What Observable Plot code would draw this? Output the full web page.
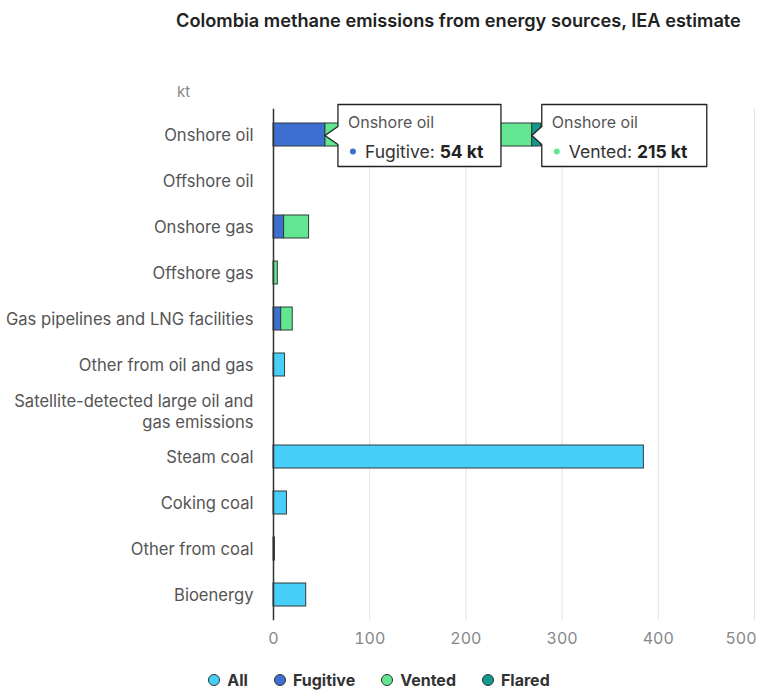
<!DOCTYPE html>
<html>
<head>
<meta charset="utf-8">
<script src="https://cdn.jsdelivr.net/npm/d3@7"></script>
<script src="https://cdn.jsdelivr.net/npm/@observablehq/plot@0.6"></script>
<style>
  html, body { margin: 0; padding: 0; background: #fff; }
  body { width: 758px; height: 690px; position: relative; font-family: Inter, "Noto Sans", sans-serif; overflow: hidden; }
  #title { position: absolute; left: 0; width: 758px; top: 7px; padding-left: 176px; box-sizing: border-box; font-size: 18.2px; font-weight: 600; color: #222; white-space: nowrap; line-height: 26px; }
  #chart { position: absolute; left: 0; top: 40px; }
  #legend { position: absolute; left: 0; width: 758px; top: 668px; display: flex; justify-content: center; gap: 26px; font-size: 16px; font-weight: 700; color: #333; line-height: 24px; }
  .item { display: flex; align-items: center; gap: 7px; }
  .sw { width: 12px; height: 12px; border-radius: 50%; border: 1px solid #333; box-sizing: border-box; }
</style>
</head>
<body>
<div id="title">Colombia methane emissions from energy sources, IEA estimate</div>
<div id="chart"></div>
<div id="legend"></div>
<script>
const categories = [
  "Onshore oil",
  "Offshore oil",
  "Onshore gas",
  "Offshore gas",
  "Gas pipelines and LNG facilities",
  "Other from oil and gas",
  "Satellite-detected large oil and\ngas emissions",
  "Steam coal",
  "Coking coal",
  "Other from coal",
  "Bioenergy"
];
const allValues      = [0, 0, 0, 0, 0, 12, 0, 385, 14, 1.5, 34];
const fugitiveValues = [54, 0, 11, 0, 8, 0, 0, 0, 0, 0, 0];
const ventedValues   = [215, 0, 26, 4.5, 12, 0, 0, 0, 0, 0, 0];
const flaredValues   = [9, 0, 0, 0, 0, 0, 0, 0, 0, 0, 0];
const types = ["All", "Fugitive", "Vented", "Flared"];
const typeColors = ["#48cff9", "#3d6fd0", "#62e692", "#13998b"];
const xTicks = [0, 100, 200, 300, 400, 500];
const unitLabel = "kt";
const tooltips = [
  {category: "Onshore oil", type: "Fugitive", value: 54, at: 54},
  {category: "Onshore oil", type: "Vented", value: 215, at: 269}
];

const series = {All: allValues, Fugitive: fugitiveValues, Vented: ventedValues, Flared: flaredValues};
const rows = [];
for (const t of types) {
  series[t].forEach((v, i) => { if (v > 0) rows.push({category: categories[i], type: t, value: v}); });
}

const plot = Plot.plot({
  width: 758,
  height: 620,
  marginLeft: 273,
  marginRight: 4,
  marginTop: 68.75,
  marginBottom: 39.75,
  style: {fontFamily: "Inter, 'Noto Sans', sans-serif", fontSize: "16px", background: "#fff"},
  x: {domain: [0, 500]},
  y: {domain: categories, paddingInner: 0.49, paddingOuter: 0.245},
  color: {domain: types, range: typeColors},
  marks: [
    Plot.gridX(xTicks, {stroke: "#e3e3e3", strokeOpacity: 1, strokeWidth: 1}),
    Plot.barX(rows, Plot.stackX({y: "category", x: "value", fill: "type", stroke: "#2f3b3b", strokeWidth: 1, order: null})),
    Plot.ruleX([0], {stroke: "#333", strokeWidth: 1.5}),
    Plot.axisX(xTicks.slice(0, -1), {tickSize: 0, tickPadding: 12, fill: "#888", fontSize: 16, label: null}),
    Plot.axisX(xTicks.slice(-1), {tickSize: 0, tickPadding: 12, fill: "#888", fontSize: 16, label: null, textAnchor: "end", dx: 2}),
    Plot.axisY({tickSize: 0, tickPadding: 20, fill: "#555", fontSize: 16.6, label: null, lineHeight: 1.22}),
    Plot.text([unitLabel], {frameAnchor: "top-left", dx: -90, dy: -23, fill: "#888", fontSize: 15, textAnchor: "middle"})
  ]
});
document.getElementById("chart").appendChild(plot);

// Tooltip annotations positioned through the plot's scales
const xs = plot.scale("x"), ys = plot.scale("y");
const svg = d3.select(plot);
const colorOf = t => typeColors[types.indexOf(t)];
tooltips.forEach((tp, i) => {
  const px = xs.apply(tp.at);
  const py = ys.apply(tp.category) + ys.bandwidth / 2 + 1;
  const bx = px + (i === 0 ? 13 : 10);
  const w = i === 0 ? 163 : 165;
  const top = py - 31, bottom = py + 31;
  const g = svg.append("g").attr("text-anchor", "start");
  g.append("path")
    .attr("d", `M${px},${py} L${bx},${py - 9} L${bx},${top} L${bx + w},${top} L${bx + w},${bottom} L${bx},${bottom} L${bx},${py + 9} Z`)
    .attr("fill", "#fff").attr("stroke", "#222").attr("stroke-width", 1.3).attr("stroke-linejoin", "round");
  g.append("text").attr("x", bx + 10).attr("y", py - 8).attr("font-size", 16).attr("fill", "#555").text(tp.category);
  g.append("circle").attr("cx", bx + 15).attr("cy", py + 16).attr("r", 3).attr("fill", colorOf(tp.type));
  const t = g.append("text").attr("x", bx + 27).attr("y", py + 22).attr("font-size", 17.5).attr("fill", "#333");
  t.append("tspan").text(tp.type + ": ");
  t.append("tspan").attr("font-weight", 700).attr("fill", "#222").text(tp.value + " kt");
});

// Legend
const legend = document.getElementById("legend");
types.forEach((t, i) => {
  const it = document.createElement("div");
  it.className = "item";
  const sw = document.createElement("span");
  sw.className = "sw";
  sw.style.background = typeColors[i];
  const lb = document.createElement("span");
  lb.textContent = t;
  it.appendChild(sw); it.appendChild(lb);
  legend.appendChild(it);
});
</script>
</body>
</html>
